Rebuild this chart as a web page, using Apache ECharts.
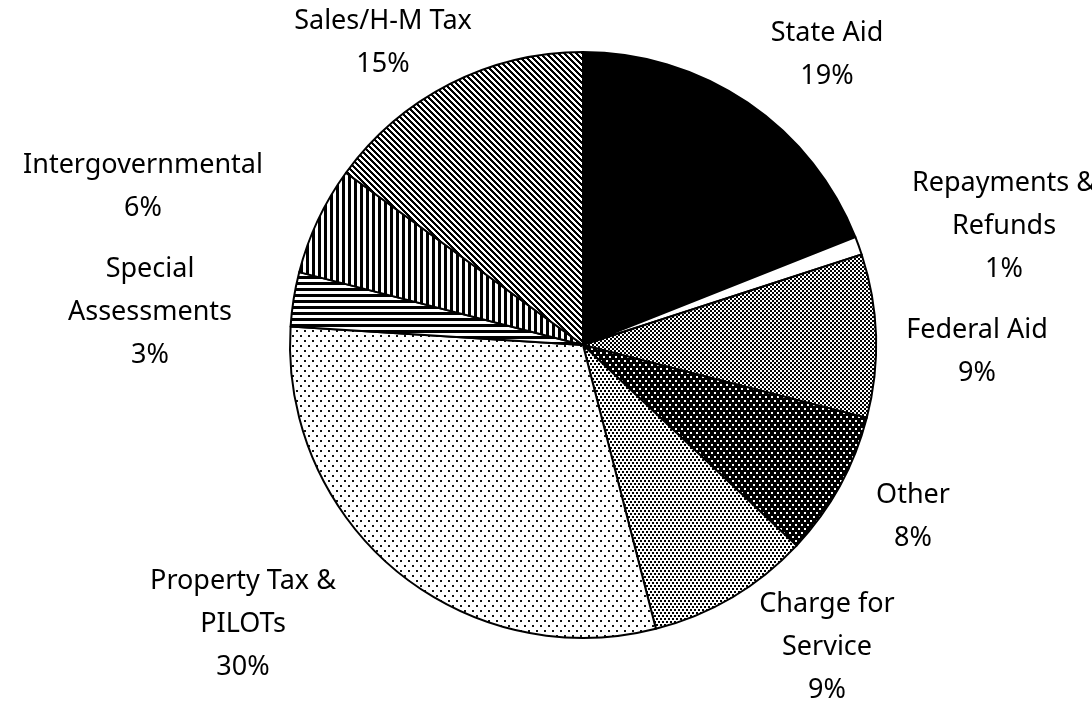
<!DOCTYPE html>
<html>
<head>
<meta charset="utf-8">
<script src="https://cdn.jsdelivr.net/npm/echarts@6/dist/echarts.min.js"></script>
<style>
  html, body { margin: 0; padding: 0; background: #fff; }
  #chart { width: 1092px; height: 702px; }
</style>
</head>
<body>
<div id="chart"></div>
<script>
// slice data, clockwise from 12 o'clock
var categories = ['State Aid', 'Repayments & Refunds', 'Federal Aid', 'Other', 'Charge for Service',
  'Property Tax & PILOTs', 'Special Assessments', 'Intergovernmental', 'Sales/H-M Tax'];
var labelText = ['State Aid', 'Repayments &\nRefunds', 'Federal Aid', 'Other', 'Charge for\nService',
  'Property Tax &\nPILOTs', 'Special\nAssessments', 'Intergovernmental', 'Sales/H-M Tax'];
var values = [19, 1, 9, 8, 9, 30, 3, 6, 15];

// where Excel put each label (centre of the text block)
var labelAnchors = [[827, 55], [1004, 226], [977, 352], [913, 517], [827, 647],
  [243, 624], [150, 312], [143, 187], [383, 43]];

function tile(w, h, bg, fg, draw) {
  var c = document.createElement('canvas');
  c.width = w; c.height = h;
  var ctx = c.getContext('2d');
  ctx.fillStyle = bg;
  ctx.fillRect(0, 0, w, h);
  ctx.fillStyle = fg;
  draw(ctx);
  return { image: c, repeat: 'repeat' };
}

var fills = [
  '#000',
  '#fff',
  tile(4, 4, '#fff', '#000', function (g) { g.fillRect(0, 0, 2, 2); g.fillRect(2, 2, 2, 2); }),
  tile(6, 8, '#000', '#fff', function (g) { g.fillRect(0, 0, 2, 2); g.fillRect(3, 4, 2, 2); }),
  tile(4, 6, '#fff', '#000', function (g) { g.fillRect(0, 0, 2, 2); g.fillRect(2, 3, 2, 2); }),
  tile(8, 10, '#fff', '#111', function (g) { g.fillRect(0, 0, 2, 2); g.fillRect(4, 5, 2, 2); }),
  tile(6, 6, '#fff', '#000', function (g) { g.fillRect(0, 0, 6, 3); }),
  tile(6, 6, '#fff', '#000', function (g) { g.fillRect(0, 0, 3, 6); }),
  tile(6, 6, '#fff', '#000', function (g) {
    for (var y = 0; y < 6; y++) {
      for (var k = 0; k < 3; k++) g.fillRect((y + k) % 6, y, 1, 1);
    }
  })
];

var pieData = categories.map(function (name, i) {
  return {
    name: name,
    value: values[i],
    itemStyle: { color: fills[i] },
    label: { formatter: labelText[i] + '\n{d}%' }
  };
});

var option = {
  backgroundColor: '#fff',
  animation: false,
  series: [
    {
      type: 'pie',
      center: [583, 345],
      radius: 293,
      startAngle: 90,
      clockwise: true,
      data: pieData,
      itemStyle: {
        borderColor: '#000',
        borderWidth: 2
      },
      label: {
        show: true,
        position: 'outside',
        fontFamily: 'Noto Sans',
        fontSize: 27,
        lineHeight: 43,
        color: '#000',
        align: 'center',
        overflow: 'none'
      },
      labelLine: { show: false },
      labelLayout: function (p) {
        var a = labelAnchors[p.dataIndex];
        return { x: a[0], y: a[1], align: 'center', verticalAlign: 'middle', hideOverlap: false };
      }
    }
  ]
};

var myChart = echarts.init(document.getElementById('chart'));
myChart.setOption(option, true);
</script>
</body>
</html>
